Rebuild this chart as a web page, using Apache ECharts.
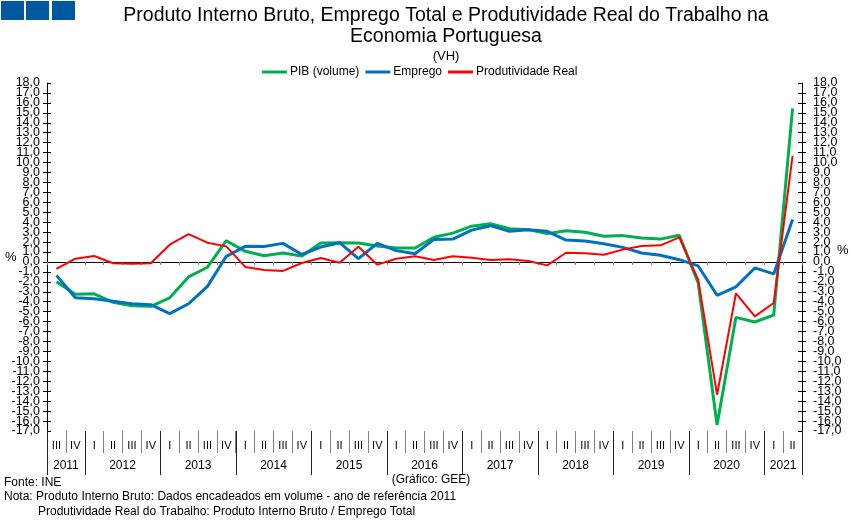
<!DOCTYPE html>
<html>
<head>
<meta charset="utf-8">
<script src="https://cdn.jsdelivr.net/npm/echarts@6/dist/echarts.min.js"></script>
<style>html,body{margin:0;padding:0;background:#fff;}#c{width:851px;height:520px;}</style>
</head>
<body>
<div id="c"></div>
<script>
// ---- data ----
const quarterLabels = ['III','IV',
  'I','II','III','IV','I','II','III','IV','I','II','III','IV','I','II','III','IV',
  'I','II','III','IV','I','II','III','IV','I','II','III','IV','I','II','III','IV',
  'I','II','III','IV','I','II'];
const years = ['2011','2012','2013','2014','2015','2016','2017','2018','2019','2020','2021'];
const quartersPerYear = [2,4,4,4,4,4,4,4,4,4,2];
const pib = [-2.0,-3.25,-3.2,-4.06,-4.4,-4.46,-3.6,-1.5,-0.53,2.14,
  1.07,0.63,0.9,0.6,1.9,1.94,1.9,1.6,1.4,1.4,
  2.48,2.9,3.6,3.85,3.35,3.25,2.85,3.15,2.98,2.58,
  2.65,2.4,2.3,2.68,-2.1,-16.4,-5.57,-6.04,-5.34,15.45];
const emprego = [-1.35,-3.6,-3.7,-3.96,-4.2,-4.3,-5.2,-4.2,-2.45,0.57,
  1.57,1.55,1.87,0.75,1.5,1.94,0.33,1.87,1.14,0.83,
  2.27,2.3,3.2,3.65,3.08,3.25,3.08,2.2,2.1,1.84,
  1.47,0.9,0.67,0.23,-0.4,-3.35,-2.5,-0.6,-1.2,4.26];
const produtividade = [-0.7,0.33,0.6,-0.13,-0.17,-0.13,1.74,2.8,1.94,1.57,
  -0.5,-0.8,-0.9,-0.1,0.4,-0.07,1.54,-0.27,0.33,0.57,
  0.2,0.57,0.43,0.2,0.27,0.1,-0.34,0.93,0.87,0.73,
  1.24,1.6,1.67,2.48,-1.8,-13.35,-3.16,-5.47,-4.13,10.7];
const seriesNames = ['PIB (volume)','Emprego','Produtividade Real'];
const yMin = -17, yMax = 18, yStep = 1;

// ---- derived axis helpers ----
const yearAxisData = new Array(quarterLabels.length + 1).fill('');
const yearBoundaries = [0];
let acc = 0;
quartersPerYear.forEach((n, k) => {
  yearAxisData[acc + n / 2] = years[k];
  acc += n;
  yearBoundaries.push(acc);
});

const FONT = 'Liberation Sans, Arial, sans-serif';
const fmt = v => v.toFixed(1).replace('.', ',');

// mode 'mid': all labels except the two ends; mode 'ends': only the two end labels
function yAx(pos, inside, mode) {
  const ends = mode === 'ends';
  return {
    type: 'value', position: pos, min: yMin, max: yMax, interval: yStep,
    splitLine: {show: false},
    axisLine: {show: !inside, lineStyle: {color: '#000', width: 1}},
    axisTick: {show: true, inside: inside, length: 4, lineStyle: {color: '#000'}},
    axisLabel: {show: true, color: '#000', fontSize: 12.5, fontFamily: FONT,
      formatter: ends ? (v => (v === yMin || v === yMax) ? fmt(v) : '') : fmt,
      showMinLabel: ends, showMaxLabel: ends, hideOverlap: false,
      margin: pos === 'left' ? 7 : 11}
  };
}
const plainText = (text, left, top, size, align) => ({
  text, left, top, padding: 0, textAlign: align || 'left',
  textStyle: {fontSize: size, fontWeight: 'normal', color: '#000', fontFamily: FONT}
});

const chart = echarts.init(document.getElementById('c'), null, {renderer: 'canvas'});
chart.setOption({
  animation: false,
  backgroundColor: '#fff',
  title: [
    {text: 'Produto Interno Bruto, Emprego Total e Produtividade Real do Trabalho na\nEconomia Portuguesa',
     left: 446, top: 5, padding: 0, textAlign: 'center',
     textStyle: {fontSize: 19.5, fontWeight: 'normal', color: '#000', fontFamily: FONT, lineHeight: 21}},
    plainText('(VH)', 446, 50, 13, 'center'),
    plainText('%', 5, 251, 13),
    plainText('%', 837, 244, 13),
    plainText('(Gráfico: GEE)', 431, 474, 12, 'center'),
    plainText('Fonte: INE', 4, 477, 12),
    plainText('Nota: Produto Interno Bruto: Dados encadeados em volume - ano de referência 2011', 4, 491, 12),
    plainText('Produtividade Real do Trabalho: Produto Interno Bruto / Emprego Total', 38, 506, 12)
  ],
  legend: {
    data: seriesNames, left: 262, top: 66, padding: 0, itemGap: 6,
    itemWidth: 25, itemHeight: 3, icon: 'rect',
    textStyle: {fontSize: 12, color: '#000', fontFamily: FONT, padding: [0, 0, 0, -2]}
  },
  graphic: [
    {type: 'rect', shape: {x: 1, y: 1, width: 23, height: 19}, style: {fill: '#0059A0'}},
    {type: 'rect', shape: {x: 26, y: 1, width: 23, height: 19}, style: {fill: '#0059A0'}},
    {type: 'rect', shape: {x: 52, y: 1, width: 23, height: 19}, style: {fill: '#0059A0'}}
  ],
  grid: {left: 47, right: 49, top: 83, bottom: 89, containLabel: false, outerBoundsMode: 'none'},
  xAxis: [
    {type: 'category', data: quarterLabels, position: 'bottom',
     axisLine: {show: true, onZero: true, lineStyle: {color: '#000', width: 1}},
     axisTick: {show: true, length: 3, lineStyle: {color: '#808080'}},
     axisLabel: {show: false}, splitLine: {show: false}},
    {type: 'category', data: quarterLabels, position: 'bottom',
     axisLine: {show: false, onZero: false},
     axisTick: {show: true, length: 22, lineStyle: {color: '#808080'}},
     axisLabel: {show: true, interval: 0, margin: 9, fontSize: 11, color: '#000', fontFamily: FONT},
     splitLine: {show: false}},
    {type: 'category', data: yearAxisData, position: 'bottom', boundaryGap: false,
     axisLine: {show: false, onZero: false},
     axisTick: {show: true, length: 44, interval: (i) => yearBoundaries.indexOf(i) >= 0,
       lineStyle: {color: '#222'}},
     axisLabel: {show: true, interval: 0, margin: 29, fontSize: 12, color: '#000', fontFamily: FONT},
     splitLine: {show: false}}
  ],
  yAxis: [yAx('left', false, 'mid'), yAx('left', true, 'ends'), yAx('right', false, 'mid'), yAx('right', true, 'ends')],
  series: [
    {name: seriesNames[0], type: 'line', data: pib, xAxisIndex: 0, yAxisIndex: 0, symbol: 'none',
     color: '#00B050', lineStyle: {width: 3, color: '#00B050'}},
    {name: seriesNames[1], type: 'line', data: emprego, xAxisIndex: 0, yAxisIndex: 0, symbol: 'none',
     color: '#0070C0', lineStyle: {width: 3, color: '#0070C0'}},
    {name: seriesNames[2], type: 'line', data: produtividade, xAxisIndex: 0, yAxisIndex: 0, symbol: 'none',
     color: '#FF0000', lineStyle: {width: 2, color: '#FF0000'}}
  ]
});
</script>
</body>
</html>
